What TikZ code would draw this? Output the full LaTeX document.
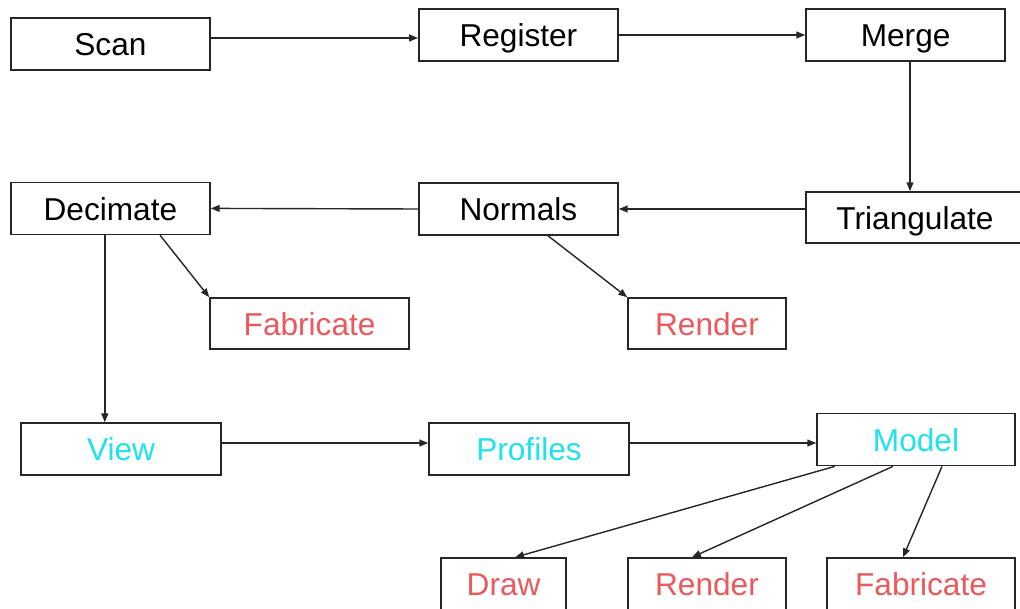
\documentclass[tikz,border=0pt]{standalone}
\usepackage{fontspec}
\setmainfont{Liberation Sans}
\usepackage{xcolor}
\usepackage{tikz}
\usetikzlibrary{arrows.meta, positioning, calc}

\definecolor{outred}{RGB}{236,88,92}
\definecolor{outcyan}{RGB}{30,226,236}

\begin{document}
\begin{tikzpicture}[
    font=\fontsize{22.5}{26}\selectfont,
    box/.style={draw=black!85, line width=1.1pt, fill=white, align=center, inner sep=0pt, text height=17pt, text depth=0pt, minimum width=4.98cm, minimum height=1.3cm, text=#1},
    box/.default=black,
    arrow/.style={-{Triangle[length=2.2mm, width=1.7mm]}, line width=1pt, color=black!85}
]
\useasboundingbox (0,0) rectangle (25.5,-15.225);

% === ROW 1: Acquisition ===
\node[box] (scan) at (2.76, -1.10) {Scan};
\node[box] (register) at (12.96, -0.875) {Register};
\node[box] (merge) at (22.64, -0.875) {Merge};

% === ROW 2: Mesh processing ===
\node[box, minimum width=5.45cm, minimum height=1.28cm] (triangulate) at (22.875, -5.44) {Triangulate};
\node[box] (normals) at (12.96, -5.225) {Normals};
\node[box] (decimate) at (2.76, -5.21) {Decimate};

% Outputs of row 2
\node[box=outred, minimum height=1.28cm] (fabricate) at (7.74, -8.09) {Fabricate};
\node[box=outred, minimum width=3.95cm, minimum height=1.28cm] (render) at (17.675, -8.09) {Render};

% === ROW 3: Analysis ===
\node[box=outcyan, minimum width=5.0cm] (view) at (3.025, -11.225) {View};
\node[box=outcyan, minimum width=5.0cm] (profiles) at (13.225, -11.225) {Profiles};
\node[box=outcyan, minimum width=4.95cm] (model) at (22.9, -10.99) {Model};

% Outputs of row 3
\node[box=outred, minimum width=3.125cm] (draw) at (12.59, -14.6) {Draw};
\node[box=outred, minimum width=3.95cm] (rendermodel) at (17.675, -14.6) {Render};
\node[box=outred, minimum width=4.7cm] (fabmodel) at (23.025, -14.6) {Fabricate};

% === ARROWS ===
% Row 1
\draw[arrow] ([yshift=0.15cm]scan.east) -- ([yshift=0.15cm]scan.east -| register.west);
\draw[arrow] (register.east) -- (merge.west);
\draw[arrow] ([xshift=0.11cm]merge.south) -- ([xshift=0.11cm]merge.south |- triangulate.north);

% Row 2
\draw[arrow] (normals.east -| triangulate.west) -- (normals.east);
\draw[arrow] (normals.west) -- (decimate.east);
\draw[arrow] ([xshift=1.24cm]decimate.south) -- (fabricate.north west);
\draw[arrow] ([xshift=0.74cm]normals.south) -- (render.north west);
\draw[arrow] ([xshift=-0.14cm]decimate.south) -- ([xshift=-0.14cm]decimate.south |- view.north);

% Row 3
\draw[arrow] ([yshift=0.15cm]view.east) -- ([yshift=0.15cm]view.east -| profiles.west);
\draw[arrow] ([yshift=0.15cm]profiles.east) -- ([yshift=0.15cm]profiles.east -| model.west);
\draw[arrow] ([xshift=-2.03cm]model.south) -- ([xshift=0.29cm]draw.north);
\draw[arrow] ([xshift=-0.575cm]model.south) -- ([xshift=-0.375cm]rendermodel.north);
\draw[arrow] ([xshift=0.65cm]model.south) -- ([xshift=-0.45cm]fabmodel.north);

\end{tikzpicture}
\end{document}
